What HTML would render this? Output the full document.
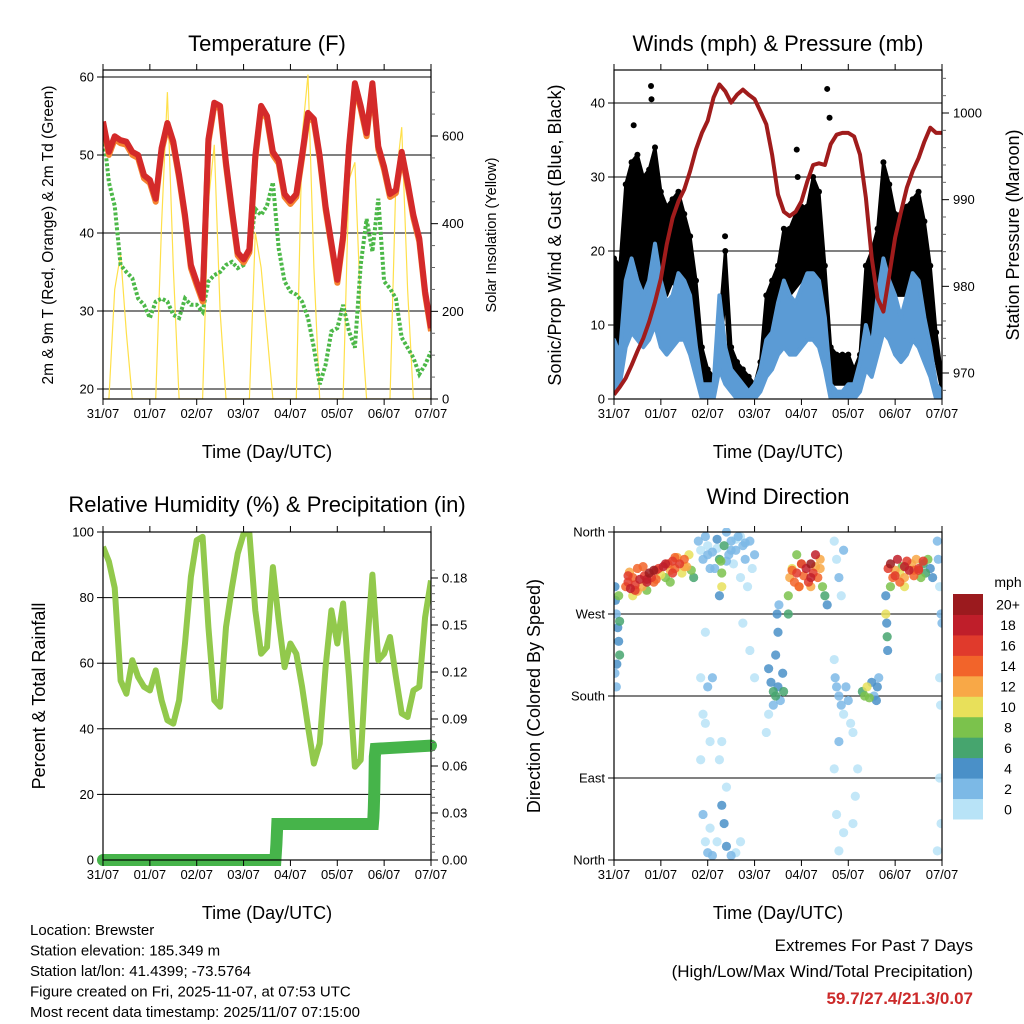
<!DOCTYPE html>
<html><head><meta charset="utf-8"><style>
body{margin:0;background:#fff;}
svg{display:block;font-family:"Liberation Sans",sans-serif;}
</style></head><body>
<svg id="s" width="1024" height="1024" xmlns="http://www.w3.org/2000/svg"></svg>
<script>
const days=["31/07","01/07","02/07","03/07","04/07","05/07","06/07","07/07"];
const tempRed=[54.3,50.4,52.4,51.9,51.7,50.4,50,47.4,46.8,44.4,50.9,54.1,51.7,47.4,42.3,35.9,33.7,31.6,52,56.7,56.3,49,43,37.5,36.6,37.9,49.9,56.3,55,50.4,49.3,45,44.1,45,50,55.4,54.6,49.9,43.4,38.7,34,39.6,51.1,59.2,56.3,52.8,59.2,51.1,48.5,45,45.5,50.4,46.5,42.3,39.3,32.5,27.8];
const dewGreen=[53.4,46.5,43.5,35.9,35,34.2,31.6,30.8,29.1,31.2,31.6,31.2,29.5,29.1,31.6,30.8,30.8,29.9,33.8,34.6,35,35.9,36.3,35.5,35.9,37.6,43.1,42.3,43.5,46.5,38,33.8,32.5,32.1,31.2,29.1,25.3,20.6,23.1,27.4,27.8,30.8,27.4,25.3,35.9,41.8,37.6,44.4,33.8,32.9,31.6,26.6,25.3,24,21.9,23.1,24.8];
const solar=[0,0,250,330,150,0,0,0, 0,0,400,700,300,0,0,0, 0,0,450,580,200,0,0,0, 0,0,380,300,150,0,0,0, 0,0,600,740,300,0,0,0, 0,0,500,540,200,0,0,0, 0,0,500,620,250,0,0,0, 0];
const windHi=[8,6,16,19,16,14,16,21,16,13,14,17,16,14,7,2,2,2,14,7,4,3,2,1,2,4,8,9,13,16,14,13,15,17,17,16,11,2,1,1,2,2,5,10,7,14,19,16,14,11,14,17,16,11,7,2,1];
const windLo=[1,2,7,9,8,7,8,10,7,6,7,8,8,6,3,0,0,0,4,2,1,0,0,0,0,1,3,4,6,7,6,6,7,8,8,7,4,0,0,0,0,0,1,4,3,6,9,8,6,5,6,8,7,5,3,0,0];
const gustHi=[19,18,29,32,33,30,31,34,28,26,27,28,25,22,16,7,4,3,10,20,7,5,4,3,2,5,14,16,18,23,23,25,26,26,30,28,18,7,6,6,6,4,6,18,20,23,32,29,25,25,26,27,28,24,18,9,3];
const gustLo=[7,5,14,16,18,14,16,20,18,14,16,14,14,11,5,2,1,1,5,14,2,2,2,1,1,2,7,9,11,14,14,15,16,16,17,16,9,2,2,2,2,2,2,9,8,11,18,16,14,14,14,16,15,11,7,5,1];
const gustPeakT=[0.79,0.8,0.42,0.85,2.37,3.9,3.92,4.55,4.6];
const gustPeakV=[42.3,40.5,37,32,22,33.7,30,41.9,38];
const pressure=[967.5,968.4,969.4,970.9,972.5,974,975.9,978.2,980.9,984.8,987.9,989.8,991.2,993.3,995.8,997.7,999.1,1001.8,1003.3,1002.5,1001.2,1002.1,1002.7,1002.1,1001.6,1000.2,998.7,995.2,990.6,988.6,988.1,988.6,989.8,992.1,994,994.2,994,996.4,997.5,997.7,997.7,997.3,995.2,990.2,983.3,978.6,977.1,981.3,985.6,988.6,991.4,993.3,994.8,996.7,998.3,997.7,997.7];
const rh=[95.5,91,83,54.7,50.7,60.9,55.8,52.8,51.7,57.8,48.7,42.6,41.6,48.7,66,86.3,97.5,98.5,71,48.7,46.7,71,83,93.4,99.5,99.5,76.1,62.9,64.9,89.3,73,58.8,66,62.9,52.8,40.6,29.4,35.5,58.8,76.1,66,78.2,55.8,28.4,30.5,62.9,87,60.9,62.9,68,55.8,44.7,43.6,51.7,52.8,74,85.2];
const precipT=[0,3.68,3.70,3.72,5.76,5.77,5.78,5.79,5.8,5.82,7];
const precipV=[0,0,0.01,0.023,0.023,0.027,0.033,0.044,0.066,0.071,0.073];
const dirT=[0.02,0.03,0.05,0.08,0.1,0.12,0.05,0.02,0.06,0.1,0.12,0.25,0.3,0.35,0.4,0.45,0.5,0.55,0.6,0.65,0.7,0.75,0.8,0.85,0.9,0.95,1.0,1.05,1.1,1.15,1.2,1.25,1.3,1.35,1.4,1.45,1.5,1.55,1.6,1.65,1.7,0.4,0.7,1.2,0.33,0.62,1.8,1.85,1.9,1.95,2.0,2.05,2.1,2.2,2.25,2.3,2.35,2.4,2.45,2.5,2.55,2.6,2.65,2.7,2.75,2.8,2.85,2.9,2.95,3.0,2.3,2.28,2.25,1.85,1.9,1.95,2.0,2.05,1.85,1.9,1.95,2.0,2.05,2.1,2.2,2.3,2.35,2.4,2.5,2.6,2.7,2.4,2.25,2.3,1.95,2.1,2.75,2.9,3.0,3.3,3.35,3.4,3.45,3.5,3.55,3.6,3.62,3.4,3.3,3.25,3.45,3.5,3.48,3.52,3.72,3.75,3.8,3.85,3.9,3.95,4.0,4.05,4.1,4.15,4.2,4.25,4.3,4.35,4.4,4.45,4.5,4.55,3.9,4.2,3.72,4.7,4.75,4.8,4.85,4.9,4.7,4.72,4.75,4.8,4.85,4.9,4.95,5.0,5.05,5.1,4.8,4.7,4.75,4.8,4.9,5.1,5.15,5.2,5.3,5.35,5.4,5.45,5.5,5.55,5.6,5.62,5.65,5.8,5.82,5.83,5.84,5.8,5.85,5.9,5.95,6.0,6.05,6.1,6.15,6.2,6.25,6.3,6.35,6.4,6.45,6.5,6.55,6.6,6.65,6.7,6.75,6.8,5.9,6.2,6.9,6.92,6.95,6.98,6.95,6.97,6.95,6.98,6.9,7.0,0.3,0.5,0.7,0.9,1.1,1.3,1.5,0.45,0.85,1.25,3.8,4.0,4.2,4.4,3.95,4.3,6.0,6.2,6.4,6.6,6.1,6.5,2.0,2.2,2.4,2.6,2.8,2.15,2.5,2.7];
const dirDeg=[300,285,270,255,240,225,190,205,215,290,262,300,305,298,310,302,295,308,300,312,305,315,310,318,308,320,313,322,310,325,318,328,320,332,325,315,330,322,335,318,310,290,296,305,316,322,350,340,330,355,345,320,338,352,330,315,345,360,335,350,325,340,355,310,345,330,300,350,320,335,300,328,290,200,160,150,190,130,110,50,20,8,35,5,20,60,40,15,5,8,20,80,110,130,250,200,260,230,200,210,195,185,180,190,175,205,185,170,160,140,225,250,270,280,290,310,320,305,315,300,325,312,320,305,325,315,335,310,320,300,290,280,335,300,270,350,330,310,290,340,220,200,190,180,170,160,190,175,150,140,130,100,50,10,30,40,70,100,185,180,190,178,195,180,175,190,200,290,260,245,230,270,320,325,310,318,330,315,322,310,328,318,325,312,330,320,310,325,315,330,320,310,300,300,350,330,300,270,200,170,90,40,10,260,312,320,308,318,325,332,322,296,305,315,318,325,310,330,300,322,312,322,318,328,305,318,335,342,328,352,348,320,340,355];
const dirSpd=[4,4,3,5,4,7,3,2,4,8,7,14,16,18,15,17,13,19,12,16,18,20,17,20,14,16,11,18,9,15,13,16,14,12,17,10,15,13,11,8,6,11,9,8,13,15,2,1,3,2,1,2,3,4,7,9,6,2,3,2,1,3,2,1,3,2,1,2,1,2,10,8,4,1,1,1,3,1,1,2,1,3,1,2,1,4,5,4,3,1,1,1,1,1,1,2,1,1,1,4,5,6,7,4,3,4,7,2,1,1,4,4,5,2,8,12,10,14,16,12,11,15,18,17,20,16,18,14,12,9,6,4,8,13,6,1,1,2,1,2,1,3,2,3,2,1,2,3,1,1,2,1,1,1,1,1,1,1,6,9,10,8,4,3,4,5,3,4,5,6,4,10,16,20,14,12,18,10,8,12,16,18,13,15,12,16,9,7,6,8,5,4,8,10,3,2,1,2,1,1,1,1,1,3,17,14,19,16,18,15,13,16,15,17,14,17,19,12,15,13,16,18,14,17,15,16,2,1,2,1,2,3,2,1];
const spdLabels=["0","2","4","6","8","10","12","14","16","18","20+"];
const spdColors=["#b8e3f7","#7cb9e6","#4a90c8","#46a56e","#7bc24c","#e8e05a","#f8a847","#f2642a","#e03a2c","#bf1e2a","#9b1a1e"];

const S=document.getElementById('s');
const NS="http://www.w3.org/2000/svg";
function el(tag,attrs,parent){const e=document.createElementNS(NS,tag);for(const k in attrs)e.setAttribute(k,attrs[k]);(parent||S).appendChild(e);return e;}
function txt(x,y,s,size,anchor,extra){const t=el('text',Object.assign({x:x,y:y,'font-size':size,'text-anchor':anchor||'middle',fill:'#000'},extra||{}));t.textContent=s;return t;}
function lin(d0,d1,r0,r1){return v=>r0+(v-d0)/(d1-d0)*(r1-r0);}
const tIdx=i=>i*0.125;

function frame(name,x0,y0,x1,y1){
  const r=el('rect',{x:x0,y:y0,width:x1-x0,height:y1-y0,fill:'none',stroke:'#000','stroke-width':1.2});
  
}
function xAxis(name,X,x0,x1,yb,yt){
  days.forEach((d,i)=>{const x=X(i);
    el('line',{x1:x,y1:yb,x2:x,y2:yb+6,stroke:'#000'});
    el('line',{x1:x,y1:yt,x2:x,y2:yt-6,stroke:'#000'});
    const t=txt(x,yb+19,d,13);});
  const t=txt((x0+x1)/2,yb+59,"Time (Day/UTC)",18);
}
function leftTicks(name,Y,vals,x0,x1,grid){
  vals.forEach(v=>{const y=Y(v);
    if(grid){const g=el('line',{x1:x0,y1:y,x2:x1,y2:y,stroke:'#000','stroke-width':1});}
    el('line',{x1:x0-6,y1:y,x2:x0,y2:y,stroke:'#000'});
    const t=txt(x0-9,y+4.5,String(v),13,'end');});
}
function rightTicks(name,Y,vals,labels,x1,minor){
  minor.forEach(v=>{const y=Y(v);el('line',{x1:x1,y1:y,x2:x1+4,y2:y,stroke:'#666'});});
  vals.forEach((v,i)=>{const y=Y(v);
    el('line',{x1:x1,y1:y,x2:x1+7,y2:y,stroke:'#000'});
    const t=txt(x1+11,y+4.5,labels[i],13,'start');});
}
function rotTitle(x,y,s,size,name){const t=txt(x,y,s,size,'middle',{transform:`rotate(-90 ${x} ${y})`});}
function title(x,y,s,name){const t=txt(x,y,s,22);}
function pathD(xs,ys){return xs.map((x,i)=>(i?'L':'M')+x.toFixed(1)+' '+ys[i].toFixed(1)).join(' ');}

// ===== Panel 1: Temperature =====
{
const x0=103,x1=431,y0=70,y1=399;
const X=lin(0,7,x0,x1), Y=lin(20,60,389,77), YS=lin(0,600,399,136);
title(267,51,"Temperature (F)","temperature-title");
const cp=el('clipPath',{id:'c1'});el('rect',{x:x0,y:y0,width:x1-x0,height:y1-y0},cp);
leftTicks('temp',Y,[20,30,40,50,60],x0,x1,true);
const g=el('g',{'clip-path':'url(#c1)'});
const sp=el('path',{d:pathD(solar.map((v,i)=>X(tIdx(i))),solar.map(v=>YS(v))),fill:'none',stroke:'#ffe04a','stroke-width':1.2},g);

const dp=el('path',{d:pathD(dewGreen.map((v,i)=>X(tIdx(i))),dewGreen.map(v=>Y(v))),fill:'none',stroke:'#4cb848','stroke-width':4,'stroke-dasharray':'3 2'},g);

const op=el('path',{d:pathD(tempRed.map((v,i)=>X(tIdx(i))),tempRed.map(v=>Y(v)+3)),fill:'none',stroke:'#f58230','stroke-width':6,'stroke-linejoin':'round'},g);

const rp=el('path',{d:pathD(tempRed.map((v,i)=>X(tIdx(i))),tempRed.map(v=>Y(v))),fill:'none',stroke:'#d42a2a','stroke-width':6,'stroke-linejoin':'round'},g);

frame('temperature',x0,y0,x1,y1);
rightTicks('solar',YS,[0,200,400,600],["0","200","400","600"],x1,[50,100,150,250,300,350,450,500,550,650,700]);
xAxis('temperature',X,x0,x1,y1,y0);
rotTitle(53,235,"2m & 9m T (Red, Orange) & 2m Td (Green)",15.5,'temperature-y-axis-title');
rotTitle(496,235,"Solar Insolation (Yellow)",14.5,'solar-y-axis-title');
}

// ===== Panel 2: Winds =====
{
const x0=614,x1=942,y0=70,y1=399;
const X=lin(0,7,x0,x1), Y=lin(0,40,399,103), YP=lin(970,1000,373,113);
title(778,51,"Winds (mph) & Pressure (mb)","winds-title");
const cp=el('clipPath',{id:'c2'});el('rect',{x:x0,y:y0,width:x1-x0,height:y1-y0},cp);
leftTicks('wind',Y,[0,10,20,30,40],x0,x1,true);
const g=el('g',{'clip-path':'url(#c2)'});
const xs=gustHi.map((v,i)=>X(tIdx(i)));
const ga=el('path',{d:pathD(xs,gustHi.map(Y))+' '+pathD(xs.slice().reverse(),gustLo.slice().reverse().map(Y)).replace('M','L')+'Z',fill:'#000',stroke:'#000','stroke-width':3,'stroke-linejoin':'round'},g);

gustHi.forEach((v,i)=>{const c=el('circle',{cx:X(tIdx(i)),cy:Y(v),r:3,fill:'#000'},g);
});
gustPeakT.forEach((t,i)=>{const c=el('circle',{cx:X(t),cy:Y(gustPeakV[i]),r:3,fill:'#000'},g);
});
const wa=el('path',{d:pathD(xs,windHi.map(Y))+' '+pathD(xs.slice().reverse(),windLo.slice().reverse().map(Y)).replace('M','L')+'Z',fill:'#5b9bd5',stroke:'#5b9bd5','stroke-width':4,'stroke-linejoin':'round'},g);

const pp=el('path',{d:pathD(xs,pressure.map(YP)),fill:'none',stroke:'#a01c1c','stroke-width':4,'stroke-linejoin':'round'},g);

frame('winds',x0,y0,x1,y1);
rightTicks('pressure',YP,[970,980,990,1000],["970","980","990","1000"],x1,[968,972,974,976,978,982,984,986,988,992,994,996,998,1002,1004]);
xAxis('winds',X,x0,x1,y1,y0);
rotTitle(561,235,"Sonic/Prop Wind & Gust (Blue, Black)",18,'winds-y-axis-title');
rotTitle(1019,235,"Station Pressure (Maroon)",18,'pressure-y-axis-title');
}

// ===== Panel 3: RH =====
{
const x0=103,x1=431,y0=532,y1=860;
const X=lin(0,7,x0,x1), Y=lin(0,100,860,532), YR=lin(0,0.18,860,578);
title(267,512,"Relative Humidity (%) & Precipitation (in)","rh-title");
const cp=el('clipPath',{id:'c3'});el('rect',{x:x0,y:y0,width:x1-x0,height:y1-y0},cp);
leftTicks('rh',Y,[0,20,40,60,80,100],x0,x1,true);
const g=el('g',{'clip-path':'url(#c3)'});
const xs=rh.map((v,i)=>X(tIdx(i)));
const rp=el('path',{d:pathD(xs,rh.map(Y)),fill:'none',stroke:'#92c94c','stroke-width':6,'stroke-linejoin':'round'},g);

const pl=el('path',{d:pathD(precipT.map(X),precipV.map(YR)),fill:'none',stroke:'#46b44a','stroke-width':12,'stroke-linecap':'round'},S);

frame('rh',x0,y0,x1,y1);
const rv=[0,0.03,0.06,0.09,0.12,0.15,0.18];
const mn=[];for(let i=1;i<38;i++){if(i%6)mn.push(i*0.005);}
rightTicks('precip',YR,rv,rv.map(v=>v.toFixed(2)),x1,mn);
xAxis('rh',X,x0,x1,y1,y0);
rotTitle(45,696,"Percent & Total Rainfall",18,'rh-y-axis-title');
}

// ===== Panel 4: Wind direction =====
{
const x0=614,x1=942,y0=532,y1=860;
const X=lin(0,7,x0,x1), Y=lin(0,360,860,532);
title(778,504,"Wind Direction","wind-direction-title");
const names=["North","East","South","West","North"];
[0,90,180,270,360].forEach((v,i)=>{const y=Y(v);
  if(i>0&&i<4){const gl=el('line',{x1:x0,y1:y,x2:x1,y2:y,stroke:'#000'});}
  el('line',{x1:x0-6,y1:y,x2:x0,y2:y,stroke:'#000'});
  const t=txt(x0-9,y+4.5,names[i],13,'end');});
const cp=el('clipPath',{id:'c4'});el('rect',{x:x0,y:y0-4,width:x1-x0,height:y1-y0+8},cp);
const g=el('g',{'clip-path':'url(#c4)'});
const order=dirT.map((t,i)=>i).sort((a,b)=>(dirSpd[a]||0)-(dirSpd[b]||0));
order.forEach(i=>{const ci=Math.min(10,Math.floor((dirSpd[i]||0)/2));
  const c=el('circle',{cx:X(dirT[i]),cy:Y(dirDeg[i]),r:4.6,fill:spdColors[ci],'fill-opacity':0.85},g);
  });
frame('wind-direction',x0,y0,x1,y1);
xAxis('wind-direction',X,x0,x1,y1,y0);
rotTitle(540,696,"Direction (Colored By Speed)",18,'wind-direction-y-axis-title');
const cb=el('g',{});
const h=225/11;
spdLabels.forEach((l,i)=>{const y=594+(10-i)*h;
  const r=el('rect',{x:953,y:y,width:30,height:h+0.5,fill:spdColors[i]},cb);
  
  const t=txt(1008,y+h/2+5.5,l,14);});
const m=txt(1008,587,"mph",14);
}

// ===== Footer text =====
const info=["Location: Brewster","Station elevation: 185.349 m","Station lat/lon: 41.4399; -73.5764","Figure created on Fri, 2025-11-07, at 07:53 UTC","Most recent data timestamp: 2025/11/07 07:15:00"];
info.forEach((s,i)=>{const t=txt(30,935+i*20.5,s,15,'start');});
let t=txt(973,951,"Extremes For Past 7 Days",17,'end');
t=txt(973,977,"(High/Low/Max Wind/Total Precipitation)",17,'end');
t=txt(973,1004,"59.7/27.4/21.3/0.07",17,'end',{fill:'#cc2a2a','font-weight':'bold'});
</script>
</body></html>
